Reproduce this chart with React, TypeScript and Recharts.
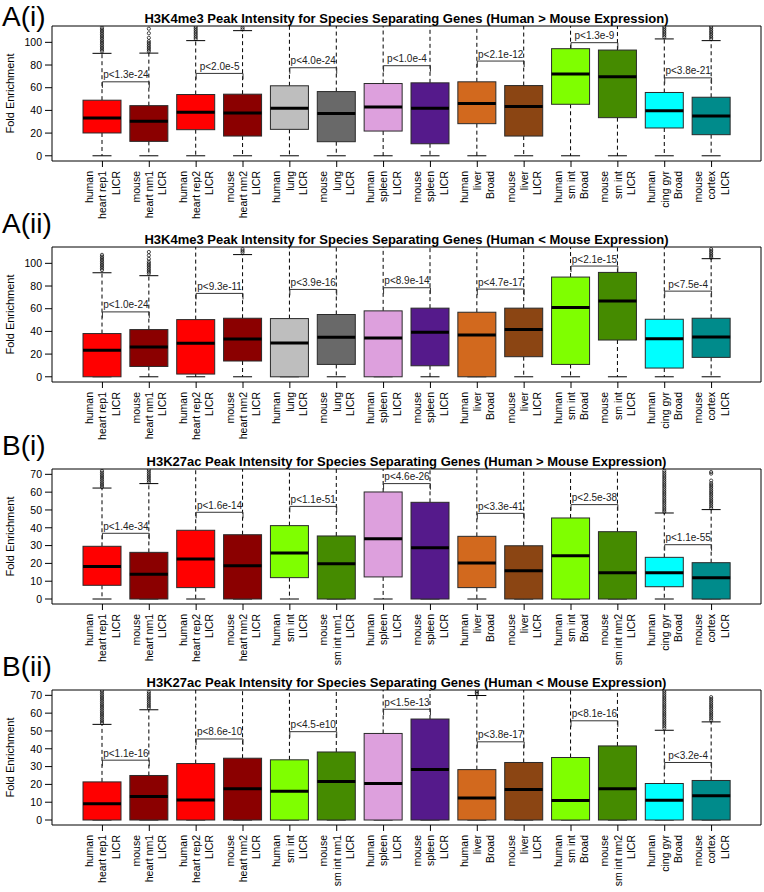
import { Bar, CartesianGrid, ComposedChart, ReferenceLine, XAxis, YAxis } from "recharts";

const FONT = "'Liberation Sans', Arial, Helvetica, sans-serif";

// x categories (three label lines each)
const aCats = [
  ["human", "heart rep1", "LICR"],
  ["mouse", "heart nm1", "LICR"],
  ["human", "heart rep2", "LICR"],
  ["mouse", "heart nm2", "LICR"],
  ["human", "lung", "LICR"],
  ["mouse", "lung", "LICR"],
  ["human", "spleen", "LICR"],
  ["mouse", "spleen", "LICR"],
  ["human", "liver", "Broad"],
  ["mouse", "liver", "LICR"],
  ["human", "sm int", "Broad"],
  ["mouse", "sm int", "LICR"],
  ["human", "cing gyr", "Broad"],
  ["mouse", "cortex", "LICR"],
];
const bCats = [
  ["human", "heart rep1", "LICR"],
  ["mouse", "heart nm1", "LICR"],
  ["human", "heart rep2", "LICR"],
  ["mouse", "heart nm2", "LICR"],
  ["human", "sm int", "LICR"],
  ["mouse", "sm int nm1", "LICR"],
  ["human", "spleen", "LICR"],
  ["mouse", "spleen", "LICR"],
  ["human", "liver", "Broad"],
  ["mouse", "liver", "LICR"],
  ["human", "sm int", "Broad"],
  ["mouse", "sm int nm2", "LICR"],
  ["human", "cing gyr", "Broad"],
  ["mouse", "cortex", "LICR"],
];

const aColors = ["#ff0000", "#8b0000", "#ff0000", "#8b0000", "#bebebe", "#696969", "#dda0dd", "#551a8b", "#d2691e", "#8b4513", "#7fff00", "#458b00", "#00ffff", "#008b8b"];
const bColors = ["#ff0000", "#8b0000", "#ff0000", "#8b0000", "#7fff00", "#458b00", "#dda0dd", "#551a8b", "#d2691e", "#8b4513", "#7fff00", "#458b00", "#00ffff", "#008b8b"];

const aTicks = [0, 20, 40, 60, 80, 100];
const bTicks = [0, 10, 20, 30, 40, 50, 60, 70];

// A(i) H3K4me3, human > mouse
const aiQ1 = [20.1, 12.7, 23.0, 17.4, 23.3, 12.4, 21.8, 10.6, 28.3, 17.4, 45.4, 33.6, 24.5, 18.6];
const aiMed = [33.3, 30.4, 38.3, 37.8, 41.9, 37.2, 43.1, 41.9, 46.0, 43.4, 72.0, 69.6, 39.8, 35.1];
const aiQ3 = [49.0, 44.2, 54.0, 54.3, 61.7, 56.6, 63.7, 64.3, 65.2, 61.9, 94.4, 93.2, 55.8, 51.6];
const aiLo = [0, 0, 0, 0, 0, 0, 0, 0, 0, 0, 0, 0, 0, 0];
const aiHi = [90.3, 90.5, 101.5, 110.3, 130, 130, 130, 130, 130, 130, 130, 130, 103.0, 101.5];
const aiOut = [
  [92, 93.5, 95, 96.5, 98, 99.5, 101, 102.5, 104, 105.5, 107, 108.5, 110, 111.5, 113],
  [92, 93.5, 95, 96.5, 98, 99.5, 101, 104, 108, 112],
  [103, 104.5, 106, 107.5, 109, 110.5, 112, 113.5],
  [111.5, 113],
  [], [], [], [], [], [], [], [],
  [104.5, 106, 107.5, 109, 110.5, 112, 113.5],
  [103, 104.5, 106, 107.5, 109, 110.5, 112, 113.5],
];
const aiBracket = [65.2, 72.6, 77.6, 79.4, 83.5, 99.7, 68.7];
const aiP = ["p<1.3e-24", "p<2.0e-5", "p<4.0e-24", "p<1.0e-4", "p<2.1e-12", "p<1.3e-9", "p<3.8e-21"];

// A(ii) H3K4me3, human < mouse
const aiiQ1 = [0, 9.1, 2.4, 13.9, 0, 10.9, 0, 9.7, 0, 17.7, 10.9, 32.4, 7.7, 17.1];
const aiiMed = [23.3, 26.3, 29.5, 33.3, 29.8, 34.8, 34.2, 39.2, 36.9, 41.6, 61.1, 66.7, 33.6, 35.1];
const aiiQ3 = [38.1, 41.6, 50.4, 51.6, 51.3, 54.9, 58.1, 60.5, 56.9, 60.5, 87.9, 92.0, 50.7, 51.6];
const aiiLo = [0, 0, 0, 0, 0, 0, 0, 0, 0, 0, 0, 0, 0, 0];
const aiiHi = [91.7, 89.1, 130, 107.7, 130, 130, 130, 130, 130, 130, 130, 130, 130, 104.1];
const aiiOut = [
  [94, 95.5, 97, 98.5, 100, 101.5, 103, 104.5, 106, 107.5],
  [91, 92.5, 94, 95.5, 97, 98.5, 100, 101.5, 104, 107, 110],
  [],
  [109.5, 111, 112.5],
  [], [], [], [], [], [], [], [], [],
  [105, 106.5, 108, 109.5, 111, 112.5],
];
const aiiBracket = [57.2, 73.5, 77.0, 78.5, 77.3, 97.6, 75.5];
const aiiP = ["p<1.0e-24", "p<9.3e-11", "p<3.9e-16", "p<8.9e-14", "p<4.7e-17", "p<2.1e-15", "p<7.5e-4"];

// B(i) H3K27ac, human > mouse
const biQ1 = [7.7, 0, 6.4, 0, 12.0, 0, 12.4, 0, 6.4, 0, 0, 0, 6.9, 0];
const biMed = [18.2, 13.9, 22.5, 18.7, 25.8, 19.8, 33.9, 28.8, 20.2, 15.9, 24.3, 14.8, 14.8, 12.0];
const biQ3 = [29.6, 26.2, 38.6, 36.1, 41.2, 35.4, 60.1, 54.3, 35.2, 29.9, 45.5, 37.8, 23.4, 20.4];
const biLo = [0, 0, 0, 0, 0, 0, 0, 0, 0, 0, 0, 0, 0, 0];
const biHi = [62.3, 64.8, 80, 80, 80, 80, 80, 80, 80, 80, 80, 80, 48.3, 50.2];
const biOut = [
  [63, 64, 65, 66, 67, 68, 69, 70, 71, 72],
  [65.5, 66.5, 67.5, 68.5, 69.5, 70.5, 71.5, 72.5],
  [], [], [], [], [], [], [], [], [], [],
  [49, 50, 51, 52, 53, 54, 55, 56, 57, 58, 59, 60, 61, 62, 63, 64, 65, 66, 67, 68, 69, 70, 71, 72],
  [51, 52, 53, 54, 55, 56, 57, 58, 59, 60, 61, 62, 63, 64, 65, 66.5, 70.4, 71.3],
];
const biBracket = [36.9, 48.7, 52.0, 64.8, 48.1, 53.0, 30.5];
const biP = ["p<1.4e-34", "p<1.6e-14", "p<1.1e-51", "p<4.6e-26", "p<3.3e-41", "p<2.5e-38", "p<1.1e-55"];

// B(ii) H3K27ac, human < mouse
const biiQ1 = [0, 0, 0, 0, 0, 0, 0, 0, 0, 0, 0, 0, 0, 0];
const biiMed = [9.1, 13.2, 11.3, 17.5, 16.2, 21.6, 20.5, 28.3, 12.3, 17.1, 10.9, 17.5, 11.1, 13.6];
const biiQ3 = [21.4, 25.0, 31.7, 34.7, 33.8, 38.2, 48.6, 56.7, 28.3, 32.3, 35.1, 41.6, 20.5, 22.2];
const biiLo = [0, 0, 0, 0, 0, 0, 0, 0, 0, 0, 0, 0, 0, 0];
const biiHi = [53.7, 61.9, 80, 80, 80, 80, 80, 80, 69.9, 80, 80, 80, 50.4, 55.1];
const biiOut = [
  [54.5, 55.5, 56.5, 57.5, 58.5, 59.5, 60.5, 61.5, 62.5, 63.5, 64.5, 65.5, 66.5, 67.5, 68.5, 69.5, 70.5, 71.5, 72.5],
  [63, 64, 65, 66, 67, 68, 69, 70, 71, 72],
  [], [], [], [], [], [],
  [70.8, 71.6, 72.4],
  [], [], [],
  [51.5, 52.5, 53.5, 54.5, 55.5, 56.5, 57.5, 58.5, 59.5, 60.5, 61.5, 62.5, 63.5, 64.5, 65.5, 66.5, 67.5, 68.5, 69.5, 70.5, 71.5, 72.5],
  [56, 57, 58, 59, 60, 61, 62, 63, 64, 65, 66, 67, 68, 69],
];
const biiBracket = [33.6, 45.5, 49.6, 62.2, 43.9, 55.7, 32.3];
const biiP = ["p<1.1e-16", "p<8.6e-10", "p<4.5-e10", "p<1.5e-13", "p<3.8e-17", "p<8.1e-16", "p<3.2e-4"];

function BoxShape(props: any) {
  const { x, y, width, height, payload, yMin, yMax } = props;
  if (!payload || !height) return null;
  const { q1, q3, med, lo, hi, out, color } = payload;
  // pixel of a value, from the bar that spans q1..q3
  const py = (v: number) => y + (height * (q3 - v)) / (q3 - q1);
  const top = py(yMax);
  const bottom = py(yMin);
  const cx = x + width / 2;
  const half = width / 4;
  const hiY = Math.max(py(hi), top);
  const loY = Math.min(py(lo), bottom);
  const mY = py(med);
  return (
    <g>
      <line x1={cx} x2={cx} y1={y} y2={hiY} stroke="#000" strokeDasharray="4 3" />
      <line x1={cx} x2={cx} y1={y + height} y2={loY} stroke="#000" strokeDasharray="4 3" />
      {hi <= yMax && <line x1={cx - half} x2={cx + half} y1={hiY} y2={hiY} stroke="#000" />}
      <line x1={cx - half} x2={cx + half} y1={loY} y2={loY} stroke="#000" />
      <rect x={x} y={y} width={width} height={height} fill={color} stroke="#2a2a2a" strokeWidth={1} />
      <line x1={x} x2={x + width} y1={mY} y2={mY} stroke="#000" strokeWidth={3} />
      {out
        .filter((v: number) => v <= yMax)
        .map((v: number, i: number) => (
          <circle key={i} cx={cx} cy={py(v)} r={1.6} fill="none" stroke="#000" strokeWidth={0.7} />
        ))}
    </g>
  );
}

function XTick(props: any) {
  const { x, y, payload } = props;
  const lines = String(payload.value).split("|");
  return (
    <g transform={`translate(${x},${y})`}>
      {lines.map((t, i) => (
        <text
          key={i}
          transform={`translate(${-9.5 + i * 13.3},0) rotate(-90)`}
          textAnchor="end"
          fontSize={10.5}
          fontFamily={FONT}
          fill="#000"
        >
          {t}
        </text>
      ))}
    </g>
  );
}

function Panel(props: any) {
  const { top, letter, letterY, title, cats, colors, q1, med, q3, lo, hi, out, bracket, pLabels, domain, ticks } = props;
  const [yMin, yMax] = domain;
  const rows = cats.map((c: string[], i: number) => ({
    key: c.join("|"),
    q1: q1[i],
    med: med[i],
    q3: q3[i],
    lo: lo[i],
    hi: hi[i],
    out: out[i],
    color: colors[i],
  }));
  return (
    <div style={{ position: "absolute", left: 0, top, width: 764, height: 222 }}>
      <ComposedChart width={764} height={222} data={rows} margin={{ top: 26, right: 3, bottom: 1, left: 12 }}>
        <CartesianGrid
          stroke="#000"
          strokeWidth={1}
          horizontalCoordinatesGenerator={({ offset }: any) => [offset.top, offset.top + offset.height]}
          verticalCoordinatesGenerator={({ offset }: any) => [offset.left, offset.left + offset.width]}
        />
        <XAxis
          dataKey="key"
          type="category"
          interval={0}
          padding={{ left: 27, right: 26 }}
          axisLine={false}
          tickLine={{ stroke: "#000" }}
          tickSize={6}
          tickMargin={4}
          height={60}
          tick={(p: any) => <XTick {...p} />}
        />
        <YAxis
          type="number"
          domain={domain}
          ticks={ticks}
          allowDataOverflow
          axisLine={false}
          tickLine={{ stroke: "#000" }}
          tickSize={7}
          tickMargin={3}
          width={40}
          tick={{ fontSize: 10.5, fill: "#000", fontFamily: FONT }}
          label={{
            content: (lp: any) => {
              const vb = lp.viewBox || { x: 12, y: 26, height: 135 };
              return (
                <text
                  transform={`translate(${vb.x + 2},${vb.y + vb.height / 2}) rotate(-90)`}
                  textAnchor="middle"
                  fontSize={11}
                  fontFamily={FONT}
                  fill="#000"
                >
                  Fold Enrichment
                </text>
              );
            },
          }}
        />
        <Bar
          dataKey={(d: any) => [d.q1, d.q3]}
          barSize={38}
          isAnimationActive={false}
          shape={(p: any) => <BoxShape {...p} yMin={yMin} yMax={yMax} />}
        />
        {bracket.map((b: number, i: number) => (
          <ReferenceLine
            key={i}
            segment={[
              { x: rows[2 * i].key, y: b },
              { x: rows[2 * i + 1].key, y: b },
            ]}
            shape={(lp: any) => (
              <g>
                <path
                  d={`M${lp.x1},${lp.y1 + 6}V${lp.y1}H${lp.x2}V${lp.y2 + 6}`}
                  fill="none"
                  stroke="#333"
                  strokeWidth={1}
                />
                <text
                  x={(lp.x1 + lp.x2) / 2}
                  y={lp.y1 - 3.5}
                  textAnchor="middle"
                  fontSize={10}
                  fontFamily={FONT}
                  fill="#222"
                >
                  {pLabels[i]}
                </text>
              </g>
            )}
          />
        ))}
      </ComposedChart>
      <svg
        width={764}
        height={222}
        style={{ position: "absolute", left: 0, top: 0, overflow: "visible", pointerEvents: "none" }}
      >
        <text x={2} y={letterY} fontSize={28} fontFamily={FONT} fill="#000">
          {letter}
        </text>
        <text x={406.5} y={22.5} textAnchor="middle" fontSize={13} fontWeight="bold" fontFamily={FONT} fill="#000">
          {title}
        </text>
      </svg>
    </div>
  );
}

export default function App() {
  const aDomain = [-4.6, 114.4];
  const bDomain = [-2.8, 73.0];
  return (
    <div style={{ position: "absolute", left: 0, top: 0, width: 764, height: 892, background: "#fff" }}>
      <Panel
        top={0}
        letter="A(i)"
        letterY={26}
        title="H3K4me3 Peak Intensity for Species Separating Genes (Human > Mouse Expression)"
        cats={aCats}
        colors={aColors}
        q1={aiQ1}
        med={aiMed}
        q3={aiQ3}
        lo={aiLo}
        hi={aiHi}
        out={aiOut}
        bracket={aiBracket}
        pLabels={aiP}
        domain={aDomain}
        ticks={aTicks}
      />
      <Panel
        top={221}
        letter="A(ii)"
        letterY={12}
        title="H3K4me3 Peak Intensity for Species Separating Genes (Human < Mouse Expression)"
        cats={aCats}
        colors={aColors}
        q1={aiiQ1}
        med={aiiMed}
        q3={aiiQ3}
        lo={aiiLo}
        hi={aiiHi}
        out={aiiOut}
        bracket={aiiBracket}
        pLabels={aiiP}
        domain={aDomain}
        ticks={aTicks}
      />
      <Panel
        top={443}
        letter="B(i)"
        letterY={12}
        title="H3K27ac Peak Intensity for Species Separating Genes (Human > Mouse Expression)"
        cats={bCats}
        colors={bColors}
        q1={biQ1}
        med={biMed}
        q3={biQ3}
        lo={biLo}
        hi={biHi}
        out={biOut}
        bracket={biBracket}
        pLabels={biP}
        domain={bDomain}
        ticks={bTicks}
      />
      <Panel
        top={664}
        letter="B(ii)"
        letterY={12}
        title="H3K27ac Peak Intensity for Species Separating Genes (Human < Mouse Expression)"
        cats={bCats}
        colors={bColors}
        q1={biiQ1}
        med={biiMed}
        q3={biiQ3}
        lo={biiLo}
        hi={biiHi}
        out={biiOut}
        bracket={biiBracket}
        pLabels={biiP}
        domain={bDomain}
        ticks={bTicks}
      />
    </div>
  );
}
